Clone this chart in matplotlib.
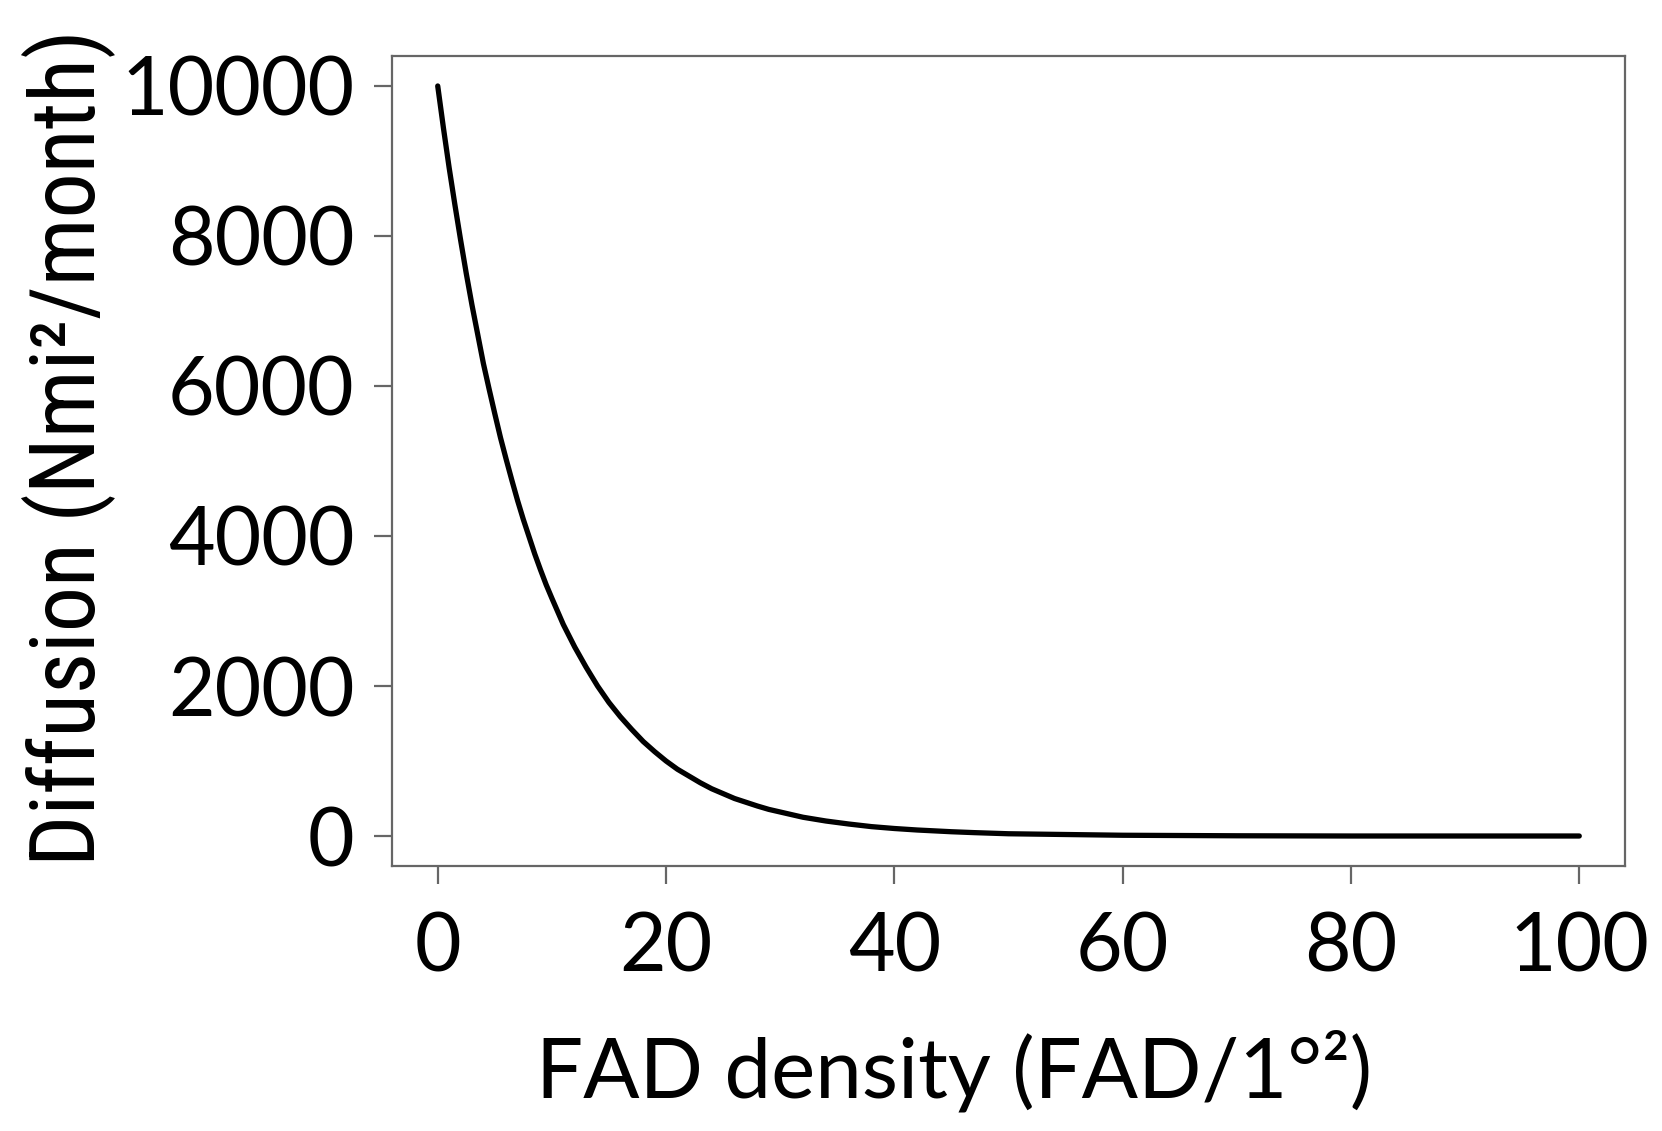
import matplotlib
matplotlib.use("Agg")
import matplotlib.pyplot as plt

# values
fad_density = [0, 0.5, 1, 1.5, 2, 2.5, 3, 3.5, 4, 4.5, 5, 5.5, 6, 6.5, 7, 7.5, 8, 8.5,
               9, 9.5, 10, 11, 12, 13, 14, 15, 16, 17, 18, 19, 20, 21, 22, 23, 24, 25,
               26, 27, 28, 29, 30, 31, 32, 34, 36, 38, 40, 42, 45, 47, 50, 55, 60, 70,
               80, 90, 100]
diffusion = [10000, 9440, 8910, 8420, 7950, 7500, 7080, 6690, 6300, 5960, 5630, 5310,
             5020, 4740, 4470, 4220, 3990, 3760, 3550, 3350, 3170, 2820, 2520, 2250,
             2000, 1780, 1590, 1420, 1260, 1125, 1000, 890, 800, 710, 630, 565, 500,
             450, 400, 355, 320, 285, 250, 200, 160, 125, 100, 80, 57, 45, 30, 20, 10,
             3, 0, 0, 0]
x_ticks = [0, 20, 40, 60, 80, 100]
y_ticks = [0, 2000, 4000, 6000, 8000, 10000]

plt.rcParams['font.family'] = ['Lato', 'DejaVu Sans']

fig = plt.figure(figsize=(16.62, 11.31), dpi=100)
ax = fig.add_axes([0.2359, 0.2343, 0.9777 - 0.2359, 0.9505 - 0.2343])

ax.plot(fad_density, diffusion, color='black', linewidth=3.8,
        solid_capstyle='round', solid_joinstyle='round')

ax.set_xlim(-4, 104)
ax.set_ylim(-400, 10400)
ax.set_xticks(x_ticks)
ax.set_yticks(y_ticks)
ax.set_xticklabels([str(v) for v in x_ticks])
ax.set_yticklabels([str(v) for v in y_ticks])

for s in ax.spines.values():
    s.set_color('#666666')
    s.set_linewidth(1.6)
ax.tick_params(axis='both', colors='#666666', width=1.6, length=13,
               labelcolor='black', labelsize=58)
ax.tick_params(axis='x', pad=20)
ax.tick_params(axis='y', pad=14)

fig.text(0.574, 0.030, 'FAD density (FAD/1°²)', ha='center', va='baseline',
         fontsize=60)
fig.text(0.041, 0.604, 'Diffusion (Nmi²/month)', ha='center', va='center',
         rotation=90, fontsize=65,
         family=['Liberation Sans Narrow', 'Roboto Condensed', 'Lato'])

fig.savefig('out.png', dpi=100, facecolor='white')
